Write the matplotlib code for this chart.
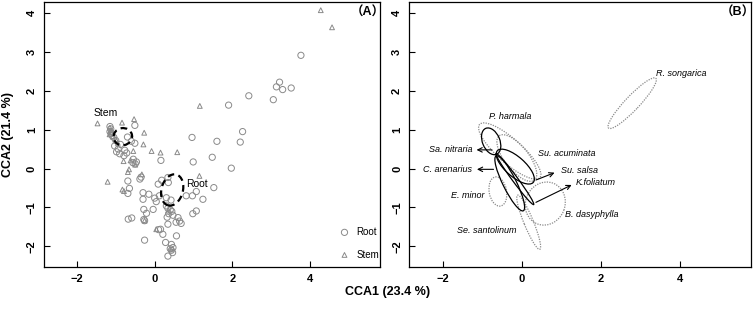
import matplotlib
matplotlib.use('Agg')
import matplotlib.pyplot as plt
from matplotlib.patches import Ellipse

plt.rcParams['font.family'] = ['Liberation Sans', 'Noto Sans CJK SC', 'DejaVu Sans']

# ---- panel A: sample scores ----
root_x = [3.76, 3.21, 3.13, 3.29, 3.51, 3.05, 2.42, 1.90, 2.26, 2.20, 1.60, 0.96, 1.48, 0.99, 1.97, 1.52, 0.16,
          -0.51, -0.70, -0.51, -1.15, -1.13, -1.15, -1.12, -1.10, -1.05, -1.00, -1.03, -0.94, -0.98, -0.90, -0.77,
          -0.72, -0.79, -0.55, -0.56, -0.47, -0.50, -0.38, -0.69, -0.65, -0.69, -0.60, -0.88,
          0.34, 0.09, 0.35, -0.30, -0.30, -0.15, 0.00, 0.04, 0.30, 0.42, 0.81, 0.97, 1.24, 1.07, 1.07, 0.98,
          0.30, 0.34, 0.40, 0.44, 0.36, 0.47, 0.32, 0.60, 0.64, 0.68, 0.34, 0.55, -0.28, -0.04, -0.21, -0.28,
          -0.26, -0.68, -0.59, 0.15, 0.10, 0.21, 0.56, 0.28, 0.43, 0.47, 0.43, 0.40, 0.34, 0.46, -0.26, 0.18,
          -0.35, 0.12]
root_y = [2.91, 2.22, 2.10, 2.03, 2.07, 1.77, 1.87, 1.63, 0.95, 0.68, 0.70, 0.80, 0.29, 0.17, 0.01, -0.49, 0.21,
          1.11, 0.81, 0.65, 1.08, 1.02, 0.95, 0.90, 0.85, 0.80, 0.72, 0.58, 0.50, 0.43, 0.38, 0.47,
          0.40, 0.33, 0.24, 0.15, 0.17, 0.12, -0.27, -0.32, -0.51, -0.64, 0.70, 0.62,
          -0.23, -0.40, -0.36, -0.62, -0.79, -0.66, -0.76, -0.85, -0.75, -0.81, -0.70, -0.70, -0.79, -0.59, -1.09, -1.16,
          -0.96, -1.02, -1.06, -1.10, -1.16, -1.20, -1.25, -1.26, -1.35, -1.41, -1.43, -1.38, -1.05, -1.05, -1.15, -1.31,
          -1.34, -1.30, -1.27, -1.56, -1.57, -1.69, -1.73, -1.90, -1.95, -2.03, -2.10, -2.06, -2.25, -2.16, -1.84, -0.30,
          -0.22, -0.70]

stem_x = [4.27, 4.56, -1.47, -0.84, -0.53, -0.27, -0.29, -0.08, 0.15, 0.58, 1.16, -0.55, 1.15, -1.21, -0.69,
          -0.33, -0.80, -0.62, -0.83, -0.79, -0.66, -1.15, -1.13, -1.12, -1.16, -1.08, -1.00, -0.95, 0.04, -0.26,
          0.42, -0.50, 0.35]
stem_y = [4.07, 3.63, 1.16, 1.18, 1.27, 0.92, 0.62, 0.45, 0.41, 0.42, 1.61, 0.45, -0.19, -0.34, -0.09,
          -0.15, 0.19, 0.21, -0.54, -0.58, -0.02, 1.05, 0.98, 0.92, 0.88, 0.82, 0.75, 0.66, -1.56, -1.34,
          -2.08, 0.10, -1.08]

# group ellipses (centre x, centre y, width, height, angle)
grp_names = ['Stem', 'Root']
grp_cx = [-0.82, 0.45]
grp_cy = [0.82, -0.55]
grp_w = [0.48, 0.55]
grp_h = [0.44, 0.82]
grp_ang = [10, -15]

# ---- panel B: species ellipses ----
sp_names = ['R. songarica', 'P. harmala', 'Su. acuminata', 'E. minor', 'B. dasyphylla', 'Se. santolinum',
            'Sa. nitraria', 'Su. salsa', 'C. arenarius', 'K.foliatum']
sp_cx = [2.80, -0.30, -0.12, -0.60, 0.60, 0.18, -0.77, -0.16, -0.30, -0.17]
sp_cy = [1.68, 0.45, 0.27, -0.59, -0.90, -1.38, 0.70, 0.05, -0.38, -0.27]
sp_len = [1.75, 2.05, 1.45, 0.76, 1.12, 1.50, 0.72, 1.22, 1.57, 1.62]
sp_wid = [0.36, 0.62, 0.60, 0.44, 1.00, 0.24, 0.44, 0.50, 0.34, 0.14]
sp_ang = [47, -42, -52, 100, 70, -68, 112, -42, -64, -54]
sp_solid = [False, False, False, False, False, False, True, True, True, True]

xlim = (-2.85, 5.8)
ylim = (-2.53, 4.28)

fig = plt.figure(figsize=(7.56, 3.11), dpi=100)
axA = fig.add_axes([0.058, 0.1415, 0.445, 0.852])
axB = fig.add_axes([0.541, 0.1415, 0.452, 0.852])

for ax in (axA, axB):
    ax.set_xlim(xlim)
    ax.set_ylim(ylim)
    ax.set_xticks([-2, 0, 2, 4])
    ax.set_yticks([-2, -1, 0, 1, 2, 3, 4])
    ax.tick_params(direction='in', length=4, width=0.8, labelsize=8, pad=5)
    for lab in ax.get_xticklabels() + ax.get_yticklabels():
        lab.set_fontweight('bold')
    for lab in ax.get_yticklabels():
        lab.set_rotation(90)
        lab.set_va('center')
    for s in ax.spines.values():
        s.set_linewidth(0.9)

# panel A
axA.scatter(root_x, root_y, s=20, marker='o', facecolors='none', edgecolors='#8a8a8a', linewidths=0.7)
axA.scatter(stem_x, stem_y, s=12, marker='^', facecolors='none', edgecolors='#8a8a8a', linewidths=0.7)
for i in range(len(grp_names)):
    axA.add_patch(Ellipse((grp_cx[i], grp_cy[i]), grp_w[i], grp_h[i], angle=grp_ang[i],
                          fill=False, ec='black', lw=1.6, ls=(0, (3, 2))))
axA.text(-1.27, 1.44, 'Stem', fontsize=7.5, ha='center', va='center')
axA.text(1.09, -0.40, 'Root', fontsize=7.5, ha='center', va='center')
axA.text(0.962, 0.96, '（A）', transform=axA.transAxes, fontsize=9, fontweight='bold',
         ha='center', va='center')

# legend without frame
lx = 4.88
axA.scatter([lx], [-1.64], s=20, marker='o', facecolors='none', edgecolors='#8a8a8a', linewidths=0.7)
axA.scatter([lx], [-2.22], s=12, marker='^', facecolors='none', edgecolors='#8a8a8a', linewidths=0.7)
axA.text(lx + 0.3, -1.64, 'Root', fontsize=7, va='center')
axA.text(lx + 0.3, -2.22, 'Stem', fontsize=7, va='center')

axA.set_ylabel('CCA2 (21.4 %)', fontsize=9, fontweight='bold')
axA.yaxis.set_label_coords(-0.089, 0.5)
fig.text(0.512, 0.061, 'CCA1 (23.4 %)', fontsize=9, fontweight='bold', ha='center', va='center')

# panel B
for i in range(len(sp_names)):
    if sp_solid[i]:
        axB.add_patch(Ellipse((sp_cx[i], sp_cy[i]), sp_len[i], sp_wid[i], angle=sp_ang[i],
                              fill=False, ec='black', lw=0.9))
    else:
        axB.add_patch(Ellipse((sp_cx[i], sp_cy[i]), sp_len[i], sp_wid[i], angle=sp_ang[i],
                              fill=False, ec='#8a8a8a', lw=0.9, ls=(0, (1, 1))))

# labels without arrows
axB.text(3.41, 2.45, 'R. songarica', fontsize=6.5, style='italic', va='center')
axB.text(-0.28, 1.35, 'P. harmala', fontsize=6.5, style='italic', ha='center', va='center')
axB.text(0.41, 0.38, 'Su. acuminata', fontsize=6.5, style='italic', va='center')
axB.text(-0.94, -0.69, 'E. minor', fontsize=6.5, style='italic', ha='right', va='center')
axB.text(1.09, -1.18, 'B. dasyphylla', fontsize=6.5, style='italic', va='center')
axB.text(-0.88, -1.58, 'Se. santolinum', fontsize=6.5, style='italic', ha='center', va='center')

# labels with arrows
arr = dict(arrowstyle='->', color='black', lw=0.8, mutation_scale=8)
axB.annotate('', xy=(-1.21, 0.48), xytext=(-0.68, 0.48), arrowprops=arr)
axB.text(-1.25, 0.48, 'Sa. nitraria', fontsize=6.5, style='italic', ha='right', va='center')
axB.annotate('', xy=(-1.20, -0.02), xytext=(-0.64, -0.02), arrowprops=arr)
axB.text(-1.25, -0.02, 'C. arenarius', fontsize=6.5, style='italic', ha='right', va='center')
axB.annotate('', xy=(0.90, -0.08), xytext=(0.30, -0.32), arrowprops=arr)
axB.text(1.00, -0.06, 'Su. salsa', fontsize=6.5, style='italic', va='center')
axB.annotate('', xy=(1.33, -0.39), xytext=(0.30, -0.90), arrowprops=arr)
axB.text(1.37, -0.36, 'K.foliatum', fontsize=6.5, style='italic', va='center')

axB.text(0.962, 0.96, '（B）', transform=axB.transAxes, fontsize=9, fontweight='bold',
         ha='center', va='center')

plt.savefig('out.png', dpi=100)
